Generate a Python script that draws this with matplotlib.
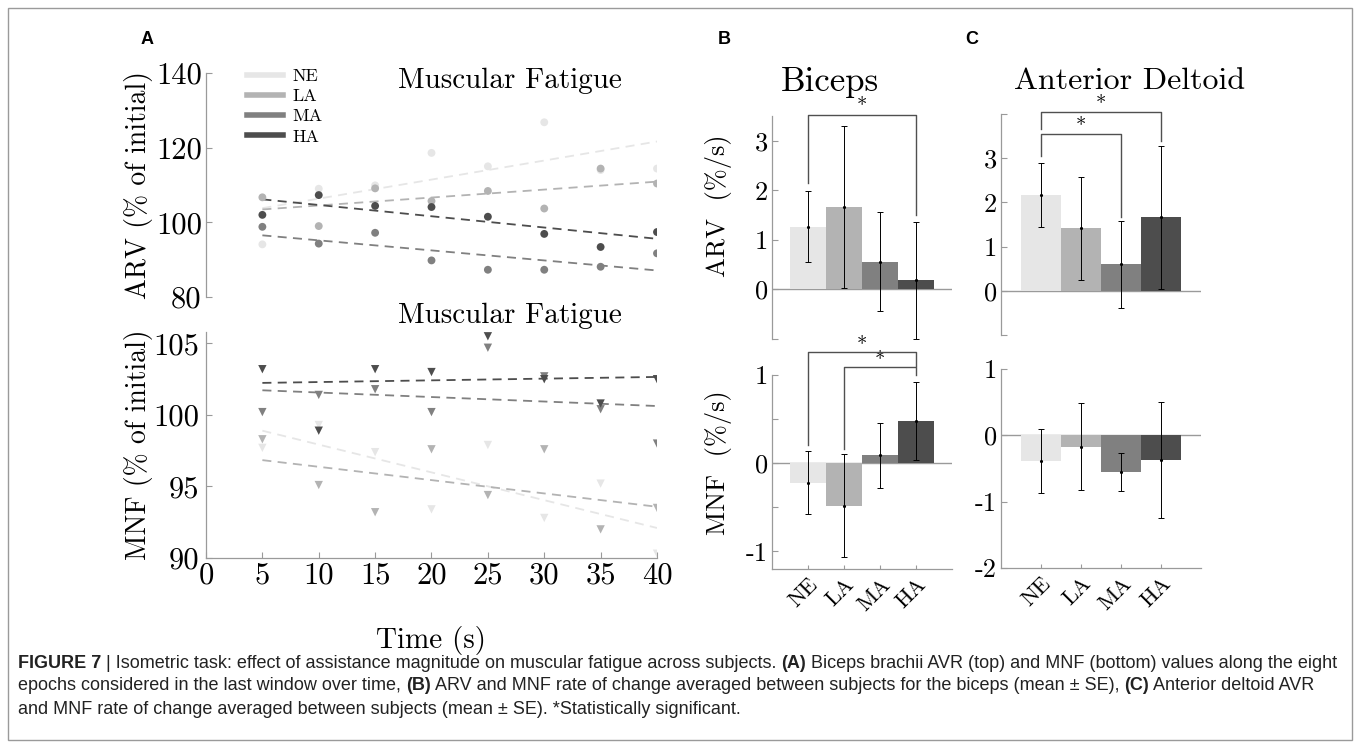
import numpy as np
import matplotlib
matplotlib.use('Agg')
import matplotlib.pyplot as plt
from matplotlib.patches import Rectangle
from matplotlib.lines import Line2D
from matplotlib.transforms import IdentityTransform

plt.rcParams['font.family'] = 'cmr10'
plt.rcParams['axes.unicode_minus'] = False
plt.rcParams['mathtext.fontset'] = 'cm'
plt.rcParams['axes.formatter.use_mathtext'] = True

# ---------------- data ----------------
groups = ['NE', 'LA', 'MA', 'HA']
colors = ['#e6e6e6', '#b3b3b3', '#808080', '#4d4d4d']
time_s = [5, 10, 15, 20, 25, 30, 35, 40]

arv_ne = [94.1, 109.0, 109.9, 118.6, 115.0, 126.8, 114.0, 114.4]
arv_la = [106.7, 99.0, 109.1, 105.7, 108.4, 103.7, 114.4, 110.4]
arv_ma = [98.8, 94.3, 97.2, 89.8, 87.3, 87.3, 88.1, 91.7]
arv_ha = [102.0, 107.3, 104.4, 104.1, 101.5, 96.9, 93.4, 97.4]

mnf_ne = [97.7, 99.3, 97.4, 93.4, 97.9, 92.8, 95.2, 90.3]
mnf_la = [98.3, 95.1, 93.2, 97.6, 94.4, 97.6, 92.0, 93.5]
mnf_ma = [100.2, 101.4, 101.8, 100.2, 104.7, 102.7, 100.4, 98.0]
mnf_ha = [103.2, 98.9, 103.2, 103.0, 105.5, 102.5, 100.8, 102.5]

bic_arv_mean = [1.27, 1.66, 0.56, 0.19]
bic_arv_se = [0.71, 1.63, 1.00, 1.18]
bic_mnf_mean = [-0.22, -0.48, 0.09, 0.48]
bic_mnf_se = [0.36, 0.58, 0.37, 0.44]
del_arv_mean = [2.17, 1.41, 0.60, 1.66]
del_arv_se = [0.72, 1.16, 0.98, 1.61]
del_mnf_mean = [-0.39, -0.17, -0.55, -0.37]
del_mnf_se = [0.48, 0.66, 0.29, 0.87]

W, H = 1360, 747
fig = plt.figure(figsize=(W / 100, H / 100), dpi=100)


def px_axes(x0, x1, y_top, y_bot):
    return fig.add_axes([x0 / W, 1 - y_bot / H, (x1 - x0) / W, (y_bot - y_top) / H])


SPINE = '#9a9a9a'


def style(ax, labelsize):
    for s in ax.spines.values():
        s.set_color(SPINE)
        s.set_linewidth(0.9)
    ax.tick_params(direction='in', length=4, width=0.8, color=SPINE,
                   labelsize=labelsize, labelcolor='black', pad=3)
    ax.set_facecolor('none')


# ---------------- Panel A ----------------
axA1 = px_axes(206, 657, 73, 297)
axA2 = px_axes(206, 657, 332, 558)

arv_sets = [arv_ne, arv_la, arv_ma, arv_ha]
mnf_sets = [mnf_ne, mnf_la, mnf_ma, mnf_ha]
t = np.array(time_s, dtype=float)
for vals, c in zip(arv_sets, colors):
    axA1.scatter(t, vals, s=32, color=c, edgecolors='none', zorder=3)
    p = np.polyfit(t, vals, 1)
    axA1.plot([t[0], t[-1]], np.polyval(p, [t[0], t[-1]]), ls=(0, (5, 3.5)),
              color=c, lw=1.3, zorder=2)
for vals, c in zip(mnf_sets, colors):
    axA2.scatter(t, vals, s=36, marker='v', color=c, edgecolors='none', zorder=3)
    p = np.polyfit(t, vals, 1)
    axA2.plot([t[0], t[-1]], np.polyval(p, [t[0], t[-1]]), ls=(0, (5, 3.5)),
              color=c, lw=1.3, zorder=2)

style(axA1, 22)
axA1.set_xlim(0, 40)
axA1.set_ylim(80, 140)
axA1.set_yticks([80, 100, 120, 140])
axA1.set_yticklabels(['80', '100', '120', '140'])
axA1.set_xticks([])
for s in ['top', 'right', 'bottom']:
    axA1.spines[s].set_visible(False)
axA1.set_ylabel('ARV (% of initial)', fontsize=20)
axA1.yaxis.set_label_coords(-0.118, 0.5)
axA1.text(0.674, 0.933, 'Muscular Fatigue', transform=axA1.transAxes,
          fontsize=21, ha='center', va='baseline')
handles = [Line2D([0], [0], color=c, lw=4) for c in colors]
axA1.legend(handles, groups, loc='upper left', bbox_to_anchor=(0.091, 1.02),
            frameon=False, fontsize=13, handlelength=2.0, handletextpad=0.5,
            labelspacing=0.25, borderpad=0, borderaxespad=0)

style(axA2, 22)
axA2.tick_params(axis='y', pad=5)
axA2.set_xlim(0, 40)
axA2.set_ylim(90, 105.8)
axA2.set_yticks([90, 95, 100, 105])
axA2.set_yticklabels(['90', '95', '100', '105'])
axA2.set_xticks(list(range(0, 41, 5)))
axA2.set_xticklabels([str(v) for v in range(0, 41, 5)])
for s in ['top', 'right']:
    axA2.spines[s].set_visible(False)
axA2.set_ylabel('MNF (% of initial)', fontsize=20)
axA2.yaxis.set_label_coords(-0.118, 0.5)
axA2.set_xlabel('Time (s)', fontsize=21)
axA2.xaxis.set_label_coords(0.5, -0.3)
axA2.text(0.674, 1.04, 'Muscular Fatigue', transform=axA2.transAxes,
          fontsize=21, ha='center', va='baseline')


# ---------------- bar panels ----------------
xpos = [1, 2, 3, 4]


def bar_panel(ax, means, ses, ylim, yticks, ylabels, bottom_axis):
    ax.bar(xpos, means, width=1.0, color=colors, edgecolor='none', zorder=2)
    ax.errorbar(xpos, means, yerr=ses, fmt='none', ecolor='black', elinewidth=0.7,
                capsize=2, capthick=0.7, zorder=3)
    ax.plot(xpos, means, ls='none', marker='.', ms=2.5, color='black', zorder=4)
    ax.axhline(0, color=SPINE, lw=1.0, zorder=1)
    style(ax, 19)
    ax.set_xlim(0, 5)
    ax.set_ylim(*ylim)
    ax.set_yticks(yticks)
    ax.set_yticklabels(ylabels)
    for s in ['top', 'right']:
        ax.spines[s].set_visible(False)
    if bottom_axis:
        ax.set_xticks(xpos)
        ax.set_xticklabels(groups, rotation=45, ha='right', va='top',
                           rotation_mode='anchor', fontsize=16)
        ax.tick_params(axis='x', length=3, pad=4)
    else:
        ax.spines['bottom'].set_visible(False)
        ax.set_xticks([])


def bracket(ax, x0, x1, ytop, yl, yr, sx, sy):
    ax.plot([x0, x0, x1, x1], [yl, ytop, ytop, yr], color='#505050', lw=1.0,
            clip_on=False, zorder=5)
    ax.text(sx, sy, '*', fontsize=15, ha='center', va='center', clip_on=False)


axB1 = px_axes(772, 952, 116, 339)
bar_panel(axB1, bic_arv_mean, bic_arv_se, (-1, 3.5), [-1, 0, 1, 2, 3],
          ['', '0', '1', '2', '3'], False)
axB1.set_ylabel('ARV  (%/s)', fontsize=19)
axB1.yaxis.set_label_coords(-0.22, 0.6)
axB1.text(0.32, 1.112, 'Biceps', transform=axB1.transAxes, fontsize=25,
          ha='center', va='baseline')
bracket(axB1, 1, 4, 3.52, 2.15, 1.51, 2.5, 3.68)

axB2 = px_axes(772, 952, 375, 569)
bar_panel(axB2, bic_mnf_mean, bic_mnf_se, (-1.2, 1), [-1, -0.5, 0, 0.5, 1],
          ['-1', '', '0', '', '1'], True)
axB2.set_ylabel('MNF  (%/s)', fontsize=19)
axB2.yaxis.set_label_coords(-0.22, 0.55)
bracket(axB2, 1, 4, 1.26, 0.21, 1.10, 2.5, 1.33)
bracket(axB2, 2, 4, 1.09, 0.16, 1.00, 3.0, 1.16)

axC1 = px_axes(1001, 1201, 114, 335)
bar_panel(axC1, del_arv_mean, del_arv_se, (-1, 4), [-1, 0, 1, 2, 3, 4],
          ['', '0', '1', '2', '3', ''], False)
axC1.text(0.645, 1.114, 'Anterior Deltoid', transform=axC1.transAxes,
          fontsize=23, ha='center', va='baseline')
bracket(axC1, 1, 4, 4.05, 3.67, 3.38, 2.5, 4.2)
bracket(axC1, 1, 3, 3.54, 3.05, 1.68, 2.0, 3.71)

axC2 = px_axes(1001, 1201, 369, 568)
bar_panel(axC2, del_mnf_mean, del_mnf_se, (-2, 1), [-2, -1, 0, 1],
          ['-2', '-1', '0', '1'], True)

# ---------------- panel letters ----------------
for lab, x in [('A', 147), ('B', 724), ('C', 972)]:
    fig.text(x / W, 1 - 40 / H, lab, fontsize=13, fontweight='bold',
             family='Liberation Sans', ha='center', va='center')

# ---------------- frame ----------------
fig.add_artist(Rectangle((8 / W, 1 - 740 / H), (1352 - 8) / W, (740 - 8) / H,
                         transform=fig.transFigure, fill=False, ec='#9a9a9a', lw=1.0))

# ---------------- caption ----------------
cap_lines = [
    [('FIGURE 7', True), (' | Isometric task: effect of assistance magnitude on muscular fatigue across subjects. ', False),
     ('(A)', True), (' Biceps brachii AVR (top) and MNF (bottom) values along the eight', False)],
    [('epochs considered in the last window over time, ', False), ('(B)', True),
     (' ARV and MNF rate of change averaged between subjects for the biceps (mean \u00b1 SE), ', False),
     ('(C)', True), (' Anterior deltoid AVR', False)],
    [('and MNF rate of change averaged between subjects (mean \u00b1 SE). *Statistically significant.', False)],
]
renderer = fig.canvas.get_renderer()


def draw_line(parts, x, y, size):
    arts = []
    for txt, bold in parts:
        a = fig.text(x, y, txt, fontsize=size, fontweight='bold' if bold else 'normal',
                     family='Liberation Sans', transform=IdentityTransform(),
                     ha='left', va='center', color='#222222')
        x += a.get_window_extent(renderer).width
        arts.append(a)
    return x, arts


end, arts = draw_line(cap_lines[0], 18, H - 663, 10)
for a in arts:
    a.remove()
size = 10 * (1340 - 18) / (end - 18)
for i, parts in enumerate(cap_lines):
    draw_line(parts, 18, H - (663 + 23 * i), size)

fig.savefig('out.png', dpi=100)
